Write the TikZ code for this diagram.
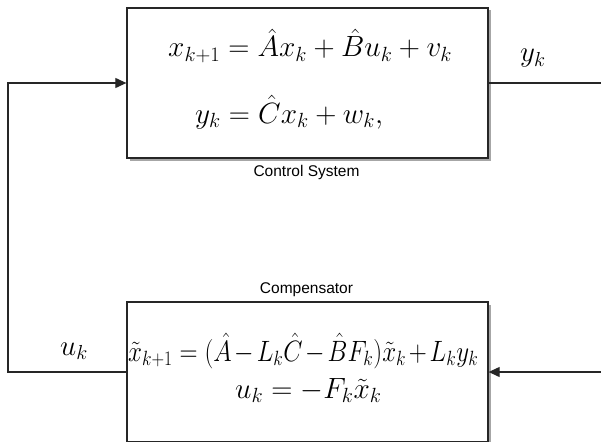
\RequirePackage{fix-cm}
\documentclass[tikz,border=0pt]{standalone}
\usepackage{fontspec}
\usepackage{amsmath}
\usepackage{graphicx}
\newfontfamily\labelfont{Liberation Sans}
\usetikzlibrary{arrows.meta,shadows}
\tikzset{
  block/.style={draw=black!85, line width=1.3pt, fill=white, rectangle,
    drop shadow={shadow xshift=2.5pt, shadow yshift=-2.5pt, opacity=0.35, fill=black}},
  conn/.style={draw=black!85, line width=1.1pt},
  arr/.style={conn, -{Triangle[length=11pt,width=10pt]}},
  eq/.style={inner sep=0pt, anchor=base west, font=\fontsize{29.3}{34}\selectfont},
  eqsmall/.style={inner sep=0pt, anchor=base west, font=\fontsize{26.5}{31}\selectfont},
  sig/.style={inner sep=0pt, anchor=base west, font=\fontsize{29}{34}\selectfont},
  caption/.style={inner sep=0pt, anchor=base, font=\labelfont\fontsize{15.5}{18}\selectfont}
}
\begin{document}
\begin{tikzpicture}[x=1pt,y=-1pt]
\clip (0,0) rectangle (601,441);
\fill[white] (0,0) rectangle (601,441);
\node[block, minimum width=361pt, minimum height=150pt] (sys) at (307.5,83) {};
\node[block, minimum width=361pt, minimum height=140pt] (comp) at (307.5,372) {};
\node[eq] (e1) at (168,57) {$x_{k+1} = \hat{A}x_k + \hat{B}u_k + v_k$};
\node[eq] (e2) at (195,123) {$y_k = \hat{C}x_k + w_k,$};
\node[eqsmall] (e3) at (128,361) {\resizebox{350pt}{!}{\scalebox{0.85}[1]{\medmuskip=2mu$\tilde{x}_{k+1} = (\hat{A} - L_k\hat{C} - \hat{B}F_k)\tilde{x}_k + L_k y_k$}}};
\node[eq] (e4) at (235,398) {$u_k = -F_k\tilde{x}_k$};
\node[caption] (c1) at (306.5,176) {Control System};
\node[caption] (c2) at (306.5,293) {Compensator};
\node[sig] (yk) at (520,62) {$y_k$};
\node[sig] (uk) at (60,355) {$u_k$};
\coordinate (yout) at (601,83);
\coordinate (yin) at (601,372);
\coordinate (bl) at (8,372);
\coordinate (tl) at (8,83);
\draw[conn] (sys.east) -- (yout);
\draw[arr] (yin) -- (comp.east);
\draw[arr] (comp.west) -- (bl) -- (tl) -- (sys.west);
\end{tikzpicture}
\end{document}
